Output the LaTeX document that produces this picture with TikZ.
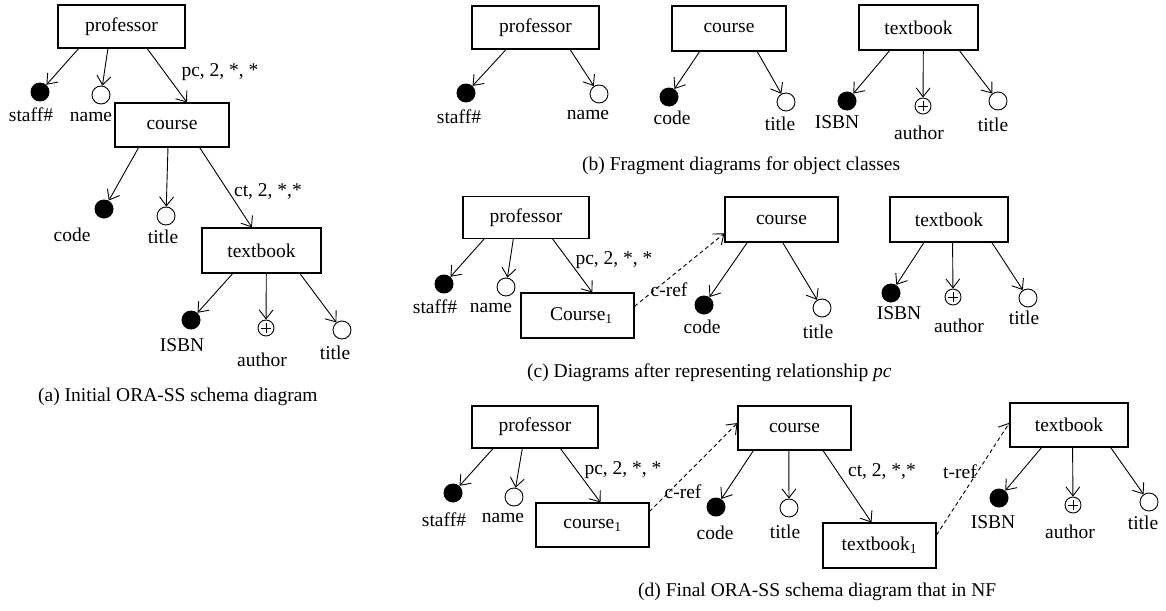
\documentclass[tikz,border=0pt]{standalone}
\usepackage{fontspec}
\setmainfont{Liberation Serif}
\usetikzlibrary{arrows.meta,calc}
\newcommand\lblfont{\fontsize{19.5}{22}\selectfont}
\newcommand\tbtext{textbook\hspace{11pt}}
\begin{document}
\begin{tikzpicture}[x=1pt,y=-1pt,
  box/.style={draw, line width=1.1pt, minimum height=44, inner sep=0, font=\lblfont},
  key/.style={circle, fill=black, minimum size=19, inner sep=0},
  attr/.style={circle, draw, line width=0.9pt, minimum size=18, inner sep=0},
  multi/.style={circle, draw, line width=0.9pt, minimum size=16, inner sep=0,
    path picture={\draw[line width=0.7pt] ([xshift=-5pt]path picture bounding box.center) -- ([xshift=5pt]path picture bounding box.center);
                  \draw[line width=0.7pt] ([yshift=-5pt]path picture bounding box.center) -- ([yshift=5pt]path picture bounding box.center);}},
  arr/.style={line width=0.9pt, -{Straight Barb[length=9pt,width=14pt,line width=0.9pt]}},
  darr/.style={arr, dashed, dash pattern=on 4pt off 3pt},
  txt/.style={font=\lblfont, inner sep=0},
  captxt/.style={font=\lblfont, inner sep=0, anchor=west}]
\useasboundingbox (0,0) rectangle (1166,610);

% ---------- (a) ----------
\node[box, minimum width=127, minimum height=43] (profA) at (121.5,26.5) {professor};
\node[key] (staffA) at (40,92) {};
\node[txt] (staffAl) at (31,115) {staff\#};
\node[attr] (nameA) at (101,95) {};
\node[txt] (nameAl) at (91,117) {name};
\node[box, minimum width=114] (courseA) at (172,125) {course};
\node[txt] (pcA) at (220,72) {pc, 2, *, *};
\node[key] (codeA) at (104,209) {};
\node[txt] (codeAl) at (72,235) {code};
\node[attr] (titleA) at (166,216) {};
\node[txt] (titleAl) at (163,237) {title};
\node[txt] (ctA) at (268,192) {ct, 2, *,*};
\node[box, minimum width=119, minimum height=45] (tbA) at (261.5,250.5) {\tbtext};
\node[key] (isbnA) at (191,320) {};
\node[txt] (isbnAl) at (182,345) {ISBN};
\node[multi] (authA) at (266,328) {};
\node[txt] (authAl) at (262,360) {author};
\node[attr] (titleB) at (342,330) {};
\node[txt] (titleBl) at (335,353) {title};
\node[captxt] (capA) at (38,397) {(a) Initial ORA-SS schema diagram};

\draw[arr] ($(profA.south west)!0.165!(profA.south east)$) -- (staffA);
\draw[arr] ($(profA.south west)!0.394!(profA.south east)$) -- (nameA);
\draw[arr] ($(profA.south west)!0.70!(profA.south east)$) -- ($(courseA.north west)!0.63!(courseA.north east)$);
\draw[arr] ($(courseA.south west)!0.21!(courseA.south east)$) -- (codeA);
\draw[arr] ($(courseA.south west)!0.465!(courseA.south east)$) -- (titleA);
\draw[arr] ($(courseA.south west)!0.74!(courseA.south east)$) -- ($(tbA.north west)!0.42!(tbA.north east)$);
\draw[arr] ($(tbA.south west)!0.26!(tbA.south east)$) -- (isbnA);
\draw[arr] ($(tbA.south west)!0.54!(tbA.south east)$) -- (authA);
\draw[arr] ($(tbA.south west)!0.82!(tbA.south east)$) -- (titleB);

% ---------- (b) ----------
\node[box, minimum width=127, minimum height=43] (profF) at (535.5,27.5) {professor};
\node[key] (staffF) at (466,93) {};
\node[txt] (staffFl) at (459,117) {staff\#};
\node[attr] (nameF) at (599,94) {};
\node[txt] (nameFl) at (588,115) {name};
\node[box, minimum width=114, minimum height=45] (courseF) at (729,28.5) {course};
\node[key] (codeF) at (669,97) {};
\node[txt] (codeFl) at (672,118) {code};
\node[attr] (titleF) at (786,102) {};
\node[txt] (titleFl) at (780,124) {title};
\node[box, minimum width=119, minimum height=45] (tbF) at (918.5,27.5) {\tbtext};
\node[key] (isbnF) at (847,101) {};
\node[txt] (isbnFl) at (837,122) {ISBN};
\node[multi] (authF) at (923,106) {};
\node[txt] (authFl) at (919,133) {author};
\node[attr] (titleG) at (998,101) {};
\node[txt] (titleGl) at (993,125) {title};
\node[captxt] (capB) at (582,166) {(b) Fragment diagrams for object classes};

\draw[arr] ($(profF.south west)!0.27!(profF.south east)$) -- (staffF);
\draw[arr] ($(profF.south west)!0.77!(profF.south east)$) -- (nameF);
\draw[arr] ($(courseF.south west)!0.245!(courseF.south east)$) -- (codeF);
\draw[arr] ($(courseF.south west)!0.745!(courseF.south east)$) -- (titleF);
\draw[arr] ($(tbF.south west)!0.26!(tbF.south east)$) -- (isbnF);
\draw[arr] ($(tbF.south west)!0.54!(tbF.south east)$) -- (authF);
\draw[arr] ($(tbF.south west)!0.84!(tbF.south east)$) -- (titleG);

% ---------- (c) ----------
\node[box, minimum width=126, minimum height=42] (profC) at (526,217.5) {professor};
\node[key] (staffC) at (444,284) {};
\node[txt] (staffCl) at (435,307) {staff\#};
\node[attr] (nameC) at (506,287) {};
\node[txt] (nameCl) at (491,308) {name};
\node[txt] (pcC) at (614,260) {pc, 2, *, *};
\node[box, minimum width=113, minimum height=45] (crsC) at (577.5,315.5) {\hspace{8pt}Course\textsubscript{1}};
\node[box, minimum width=113, minimum height=45] (courseC) at (781.5,219.5) {course};
\node[key] (codeC) at (704,305) {};
\node[txt] (codeCl) at (702,327) {code};
\node[attr] (titleC) at (822,308) {};
\node[txt] (titleCl) at (818,332) {title};
\node[box, minimum width=118, minimum height=45] (tbC) at (949,219.5) {\tbtext};
\node[key] (isbnC) at (891,293) {};
\node[txt] (isbnCl) at (899,313) {ISBN};
\node[multi] (authC) at (953,297) {};
\node[txt] (authCl) at (959,326) {author};
\node[attr] (titleD) at (1028,298) {};
\node[txt] (titleDl) at (1024,318) {title};
\node[captxt] (capC) at (527,373) {(c) Diagrams after representing relationship \textit{pc}};

\draw[arr] ($(profC.south west)!0.17!(profC.south east)$) -- (staffC);
\draw[arr] ($(profC.south west)!0.40!(profC.south east)$) -- (nameC);
\draw[arr] ($(profC.south west)!0.71!(profC.south east)$) -- ($(crsC.north west)!0.63!(crsC.north east)$);
\draw[darr] ($(crsC.north east)!0.3!(crsC.south east)$) -- ($(courseC.north west)!0.8!(courseC.south west)$);
\node[txt] (crefC) at (669,290) {c-ref};
\draw[arr] ($(courseC.south west)!0.2!(courseC.south east)$) -- (codeC);
\draw[arr] ($(courseC.south west)!0.51!(courseC.south east)$) -- (titleC);
\draw[arr] ($(tbC.south west)!0.29!(tbC.south east)$) -- (isbnC);
\draw[arr] ($(tbC.south west)!0.53!(tbC.south east)$) -- (authC);
\draw[arr] ($(tbC.south west)!0.86!(tbC.south east)$) -- (titleD);

% ---------- (d) ----------
\node[box, minimum width=126, minimum height=42] (profD) at (535,427) {professor};
\node[key] (staffD) at (453,493) {};
\node[txt] (staffDl) at (444,520) {staff\#};
\node[attr] (nameD) at (514,497) {};
\node[txt] (nameDl) at (503,518) {name};
\node[txt] (pcD) at (623,470) {pc, 2, *, *};
\node[box, minimum width=113, minimum height=44] (crsD) at (592.5,525) {course\textsubscript{1}};
\node[box, minimum width=113, minimum height=44] (courseD) at (794.5,428) {course};
\node[key] (codeD) at (716,507) {};
\node[txt] (codeDl) at (715,533) {code};
\node[attr] (titleE) at (789,508) {};
\node[txt] (titleEl) at (785,532) {title};
\node[txt] (ctD) at (882,472) {ct, 2, *,*};
\node[box, minimum width=113, minimum height=45] (tbsD) at (879.5,545.5) {textbook\textsubscript{1}};
\node[box, minimum width=118, minimum height=44] (tbD) at (1069,425) {textbook\hspace{8pt}};
\node[key] (isbnD) at (999,498) {};
\node[txt] (isbnDl) at (993,522) {ISBN};
\node[multi] (authD) at (1073,505) {};
\node[txt] (authDl) at (1070,532) {author};
\node[attr] (titleH) at (1149,502) {};
\node[txt] (titleHl) at (1143,523) {title};
\node[captxt] (capD) at (638,592) {(d) Final ORA-SS schema diagram that in NF};

\draw[arr] ($(profD.south west)!0.17!(profD.south east)$) -- (staffD);
\draw[arr] ($(profD.south west)!0.40!(profD.south east)$) -- (nameD);
\draw[arr] ($(profD.south west)!0.70!(profD.south east)$) -- ($(crsD.north west)!0.57!(crsD.north east)$);
\draw[darr] ($(crsD.north east)!0.2!(crsD.south east)$) -- ($(courseD.north west)!0.39!(courseD.south west)$);
\node[txt] (crefD) at (683,492) {c-ref};
\draw[arr] ($(courseD.south west)!0.14!(courseD.south east)$) -- (codeD);
\draw[arr] ($(courseD.south west)!0.45!(courseD.south east)$) -- (titleE);
\draw[arr] ($(courseD.south west)!0.75!(courseD.south east)$) -- ($(tbsD.north west)!0.43!(tbsD.north east)$);
\draw[darr] ($(tbsD.north east)!0.27!(tbsD.south east)$) -- ($(tbD.north west)!0.45!(tbD.south west)$);
\node[txt] (trefD) at (960,472) {t-ref};
\draw[arr] ($(tbD.south west)!0.27!(tbD.south east)$) -- (isbnD);
\draw[arr] ($(tbD.south west)!0.53!(tbD.south east)$) -- (authD);
\draw[arr] ($(tbD.south west)!0.85!(tbD.south east)$) -- (titleH);
\end{tikzpicture}
\end{document}
